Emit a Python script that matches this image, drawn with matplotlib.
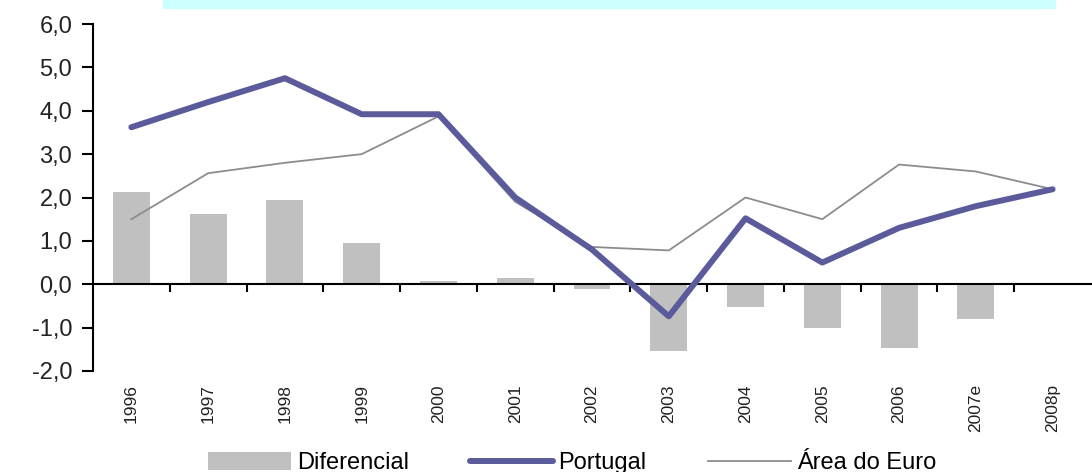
import numpy as np
import matplotlib.pyplot as plt
from matplotlib.patches import Rectangle

plt.rcParams['font.family'] = ['Liberation Sans', 'DejaVu Sans']

# data
anos = ['1996', '1997', '1998', '1999', '2000', '2001', '2002',
        '2003', '2004', '2005', '2006', '2007e', '2008p']
diferencial = [2.12, 1.61, 1.95, 0.94, 0.08, 0.14, -0.12,
               -1.54, -0.52, -1.02, -1.47, -0.80, 0.0]
portugal = [3.62, 4.2, 4.75, 3.92, 3.92, 2.0, 0.8,
            -0.74, 1.52, 0.5, 1.3, 1.8, 2.19]
area_euro = [1.5, 2.56, 2.8, 3.0, 3.87, 1.9, 0.86,
             0.78, 2.0, 1.5, 2.76, 2.6, 2.19]

x = np.arange(len(anos))

fig = plt.figure(figsize=(10.92, 4.72), dpi=100)
ax = fig.add_axes([93 / 1092, 101 / 472, 998 / 1092, 347 / 472])

# barras, linhas
barras = ax.bar(x, diferencial, width=0.48, color='#c0c0c0', label='Diferencial', zorder=1)
l_pt, = ax.plot(x, portugal, color='#5b5b9c', lw=4.3, solid_capstyle='round',
                label='Portugal', zorder=3)
l_eu, = ax.plot(x, area_euro, color='#8c8c8c', lw=1.3, label='Área do Euro', zorder=2)

ax.set_xlim(-0.5, len(anos) - 0.5)
ax.set_ylim(-2, 6)

# eixo y
yt = np.arange(-2, 7, 1)
ax.set_yticks(yt)
ax.set_yticklabels([f'{v:.1f}'.replace('.', ',') for v in yt],
                   fontsize=17, color='#222222')
ax.tick_params(axis='y', direction='out', length=8, width=1.5, pad=7)

# eixo x no zero, labels em baixo
for s in ['top', 'right']:
    ax.spines[s].set_visible(False)
ax.spines['left'].set_linewidth(1.5)
ax.spines['bottom'].set_position(('data', 0))
ax.spines['bottom'].set_linewidth(1.5)
ax.set_xticks(x)
ax.set_xticklabels(anos, rotation=90, fontsize=12.5, color='#222222')
ax.set_xticks(np.arange(0.5, len(anos) - 0.5, 1), minor=True)
ax.tick_params(axis='x', which='major', length=0, pad=72)
ax.tick_params(axis='x', which='minor', direction='out', length=6, width=1.5)

# faixa ciano no topo
fig.patches.append(Rectangle((163 / 1092, 1 - 8 / 472), (1055 - 163) / 1092, 8 / 472,
                             transform=fig.transFigure, color='#ccffff', zorder=0))

fig.legend(handles=[barras, l_pt, l_eu], loc='center',
           bbox_to_anchor=(572 / 1092, 9 / 472), ncol=3,
           frameon=False, fontsize=17, handlelength=3.5, handletextpad=0.25,
           columnspacing=2.6, borderpad=0, handleheight=0.8)

plt.savefig('out.png', dpi=100)
